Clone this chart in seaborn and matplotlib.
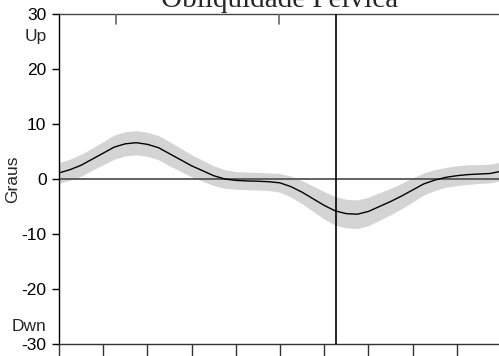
import numpy as np
import pandas as pd
import matplotlib
matplotlib.use("Agg")
import matplotlib.pyplot as plt
import seaborn as sns

# ---- data ----
cycle = [0, 2.5, 5, 7.5, 10, 12.5, 15, 17.5, 20, 22.5, 25, 27.5, 30, 32.5, 35, 37.5,
         40, 42.5, 45, 47.5, 50, 52.5, 55, 57.5, 60, 62.5, 65, 67.5, 70, 72.5, 75,
         77.5, 80, 82.5, 85, 87.5, 90, 92.5, 95, 97.5, 100]
mean_deg = [1.1, 1.7, 2.5, 3.6, 4.7, 5.8, 6.4, 6.6, 6.3, 5.7, 4.6, 3.5, 2.4, 1.5, 0.6, 0.0,
            -0.25, -0.35, -0.4, -0.5, -0.7, -1.4, -2.4, -3.6, -4.8, -5.8, -6.3, -6.4, -5.9,
            -5.0, -4.1, -3.1, -2.0, -0.9, -0.2, 0.3, 0.6, 0.8, 0.9, 1.0, 1.4]
sd_deg = [1.9, 1.9, 2.0, 2.0, 2.1, 2.2, 2.2, 2.2, 2.2, 2.2, 2.2, 2.1, 2.0, 1.9, 1.8, 1.7,
          1.6, 1.6, 1.6, 1.6, 1.7, 1.9, 2.1, 2.3, 2.5, 2.6, 2.6, 2.6, 2.6, 2.5, 2.4,
          2.3, 2.2, 2.0, 1.9, 1.8, 1.8, 1.8, 1.7, 1.7, 1.7]
toe_off = 62.7
events = [12.9, 49.8]
yticks = [-30, -20, -10, 0, 10, 20, 30]
ytick_labels = ["-30", "-20", "-10", "0", "10", "20", "30"]
dir_ticks = [26.2, -26.5]
dir_labels = ["Up", "Dwn"]
xticks = list(range(0, 101, 10))
title = "Obliquidade Pelvica"
ylabel = "Graus"

df = pd.DataFrame({"cycle": cycle, "mean": mean_deg, "sd": sd_deg})
df["lo"] = df["mean"] - df["sd"]
df["hi"] = df["mean"] + df["sd"]

sns.set_style("ticks")
plt.rcParams["font.family"] = ["Liberation Sans", "DejaVu Sans"]

fig = plt.figure(figsize=(4.99, 3.56), dpi=100)
ax = fig.add_axes([59 / 499, 12 / 356, 442 / 499, 330 / 356])

ax.fill_between(df["cycle"], df["lo"], df["hi"], color="#d4d4d4", lw=0, zorder=1)
ax.axhline(0, color="#555555", lw=1.3, zorder=2)
sns.lineplot(data=df, x="cycle", y="mean", ax=ax, color="black", lw=1.0, zorder=3)
ax.axvline(toe_off, color="black", lw=1.2, zorder=4)
for ev in events:
    ax.axvline(ev, ymin=0.97, ymax=1.0, color="#666666", lw=1.2, zorder=4)

ax.set_xlim(0, 100)
ax.set_ylim(-30, 30)
ax.set_xticks(xticks)
ax.set_xticklabels([])
ax.set_yticks(yticks)
ax.set_yticklabels(ytick_labels, fontsize=12.5)
ax.set_yticks(dir_ticks, minor=True)
ax.set_yticklabels(dir_labels, minor=True, fontsize=12.5)
ax.tick_params(axis="y", which="major", length=5, width=1, pad=4, colors="black")
ax.tick_params(axis="y", which="minor", length=0, pad=9)
ax.tick_params(axis="x", which="major", length=10, width=1, color="#333333")
ax.set_xlabel("")
ax.set_ylabel(ylabel, fontsize=12.5)
ax.yaxis.set_label_coords(-39 / 442, 0.5)

for s in ["left", "top", "bottom", "right"]:
    ax.spines[s].set_visible(True)
    ax.spines[s].set_linewidth(1.0)
ax.spines["left"].set_color("black")
ax.spines["top"].set_color("#444444")
ax.spines["bottom"].set_color("#333333")
ax.spines["right"].set_color("#444444")

ax.set_title(title, family=["Liberation Serif", "DejaVu Serif"], fontsize=21, pad=5)

fig.savefig("out.png", dpi=100)
